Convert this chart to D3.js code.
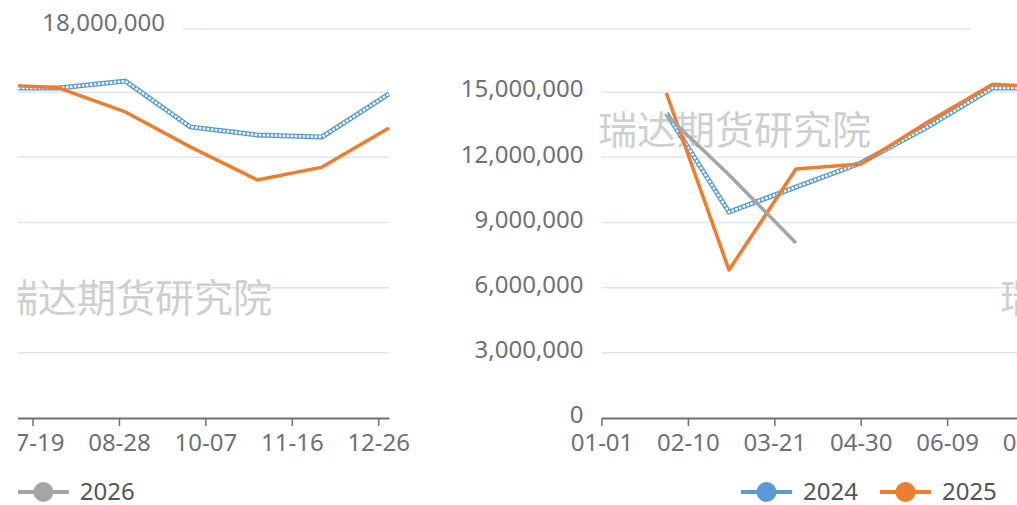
<!DOCTYPE html>
<html>
<head>
<meta charset="utf-8">
<script src="https://cdn.jsdelivr.net/npm/d3@7"></script>
<style>
  body { margin: 0; background: #fff; }
  text { font-family: "Noto Sans", "Liberation Sans", sans-serif; }
</style>
</head>
<body>
<div id="chart"></div>
<script>
// month-end readings, plotted on a leap-year season axis
var monthEnds = ["01-31", "02-29", "03-31", "04-30", "05-31", "06-30",
                 "07-31", "08-31", "09-30", "10-31", "11-30", "12-31"];
var years = ["2024", "2025", "2026"];
var values2024 = [14040000, 9480000, 10630000, 11740000, 13400000, 15190000,
                  15190000, 15510000, 13400000, 13030000, 12940000, 14920000];
var values2025 = [14960000, 6810000, 11460000, 11690000, 13630000, 15360000,
                  15200000, 14090000, 12480000, 10960000, 11550000, 13350000];
var values2026 = [13950000, 11200000, 8060000];
var xTicks = ["01-01", "02-10", "03-21", "04-30", "06-09", "07-19", "08-28", "10-07", "11-16", "12-26"];
var yTicks = [0, 3000000, 6000000, 9000000, 12000000, 15000000];
var yTop = 18000000;
var colors = ["#5b9bd5", "#ed7d31", "#a5a5a5"];
var watermark = "瑞达期货研究院";

var width = 1017, height = 505;
var wrap = 1001; // the strip on the left shows the year's second half

var parseDay = function(s) { return d3.utcParse("%Y-%m-%d")("2024-" + s); };

var x = d3.scaleUtc()
  .domain([parseDay("01-01"), parseDay("12-31")])
  .range([601.5, 1390]);

var y = d3.scaleLinear()
  .domain([0, yTop])
  .range([418, 27]);

var series = [values2024, values2025, values2026].map(function(vals, i) {
  return {
    name: years[i],
    color: colors[i],
    points: vals.map(function(v, j) { return {date: parseDay(monthEnds[j]), value: v}; })
  };
});

var svg = d3.select('#chart').append('svg')
  .attr('width', width)
  .attr('height', height);

svg.append('defs').append('clipPath')
  .attr('id', 'leftClip')
  .append('rect')
  .attr('x', 18)
  .attr('y', 0)
  .attr('width', width)
  .attr('height', height);

var line = d3.line()
  .x(function(d) { return x(d.date); })
  .y(function(d) { return y(d.value); });

function drawView(g) {
  // grid
  g.append('g').selectAll('line')
    .data(yTicks.slice(1))
    .join('line')
    .attr('x1', x.range()[0])
    .attr('x2', x.range()[1])
    .attr('y1', function(d) { return y(d); })
    .attr('y2', function(d) { return y(d); })
    .attr('stroke', '#e0e6f1')
    .attr('stroke-width', 1.5);

  // y labels
  var yAxis = g.append('g')
    .attr('transform', `translate(${x.range()[0]}, 0)`)
    .call(d3.axisLeft(y).tickValues(yTicks).tickSize(0).tickPadding(18).tickFormat(d3.format(',')));
  yAxis.select('.domain').remove();
  yAxis.selectAll('text')
    .attr('dy', '0.2em')
    .attr('fill', '#6e7079')
    .style('font-size', '24px');

  // watermark
  g.append('g').selectAll('text')
    .data([[598, 133], [1000, 301]])
    .join('text')
    .attr('x', function(d) { return d[0]; })
    .attr('y', function(d) { return d[1]; })
    .attr('dominant-baseline', 'middle')
    .attr('fill', '#cfcfcf')
    .style('font-family', '"Noto Sans CJK SC", sans-serif')
    .style('font-size', '39px')
    .text(watermark);

  // x axis
  var xAxis = g.append('g')
    .attr('transform', `translate(0, ${y(0)})`)
    .call(d3.axisBottom(x)
      .tickValues(xTicks.map(parseDay))
      .tickFormat(d3.utcFormat('%m-%d'))
      .tickSize(8)
      .tickSizeOuter(0)
      .tickPadding(8));
  xAxis.select('.domain').attr('stroke', '#6e7079').attr('stroke-width', 2);
  xAxis.selectAll('.tick line').attr('stroke', '#6e7079').attr('stroke-width', 1.5);
  xAxis.selectAll('text')
    .attr('fill', '#6e7079')
    .style('font-size', '24px');

  // lines
  var s24 = series[0];
  g.append('path')
    .datum(s24.points)
    .attr('fill', 'none')
    .attr('stroke', s24.color)
    .attr('stroke-width', 5)
    .attr('d', line);
  g.append('path')
    .datum(s24.points)
    .attr('fill', 'none')
    .attr('stroke', '#fff')
    .attr('stroke-width', 2.4)
    .attr('stroke-dasharray', '2.5,1.5')
    .attr('d', line);

  series.slice(1).forEach(function(s) {
    g.append('path')
      .datum(s.points)
      .attr('fill', 'none')
      .attr('stroke', s.color)
      .attr('stroke-width', 3.5)
      .attr('stroke-linejoin', 'round')
      .attr('d', line);
  });

  // legend
  var lx = 741;
  series.forEach(function(s) {
    var item = g.append('g').attr('transform', `translate(${lx}, 492)`);
    item.append('line')
      .attr('x1', 0).attr('x2', 51)
      .attr('stroke', s.color)
      .attr('stroke-width', 4);
    item.append('circle')
      .attr('cx', 25.5)
      .attr('r', 10)
      .attr('fill', s.color);
    var t = item.append('text')
      .attr('x', 62)
      .attr('dy', '0.35em')
      .attr('fill', '#555')
      .style('font-size', '24px')
      .text(s.name);
    lx += 62 + t.node().getComputedTextLength() + 22;
  });
}

var rightView = svg.append('g');
drawView(rightView);

var leftView = svg.append('g')
  .attr('clip-path', 'url(#leftClip)')
  .append('g')
  .attr('transform', `translate(${-wrap}, 0)`);
drawView(leftView);

// top gridline with its lone label
svg.append('line')
  .attr('x1', 183)
  .attr('x2', 970)
  .attr('y1', y(yTop) + 2)
  .attr('y2', y(yTop) + 2)
  .attr('stroke', '#e0e6f1')
  .attr('stroke-width', 1.5);

svg.append('text')
  .attr('x', 165)
  .attr('y', y(yTop) - 2)
  .attr('text-anchor', 'end')
  .attr('dominant-baseline', 'middle')
  .attr('fill', '#6e7079')
  .style('font-size', '24px')
  .text(d3.format(',')(yTop));
</script>
</body>
</html>
